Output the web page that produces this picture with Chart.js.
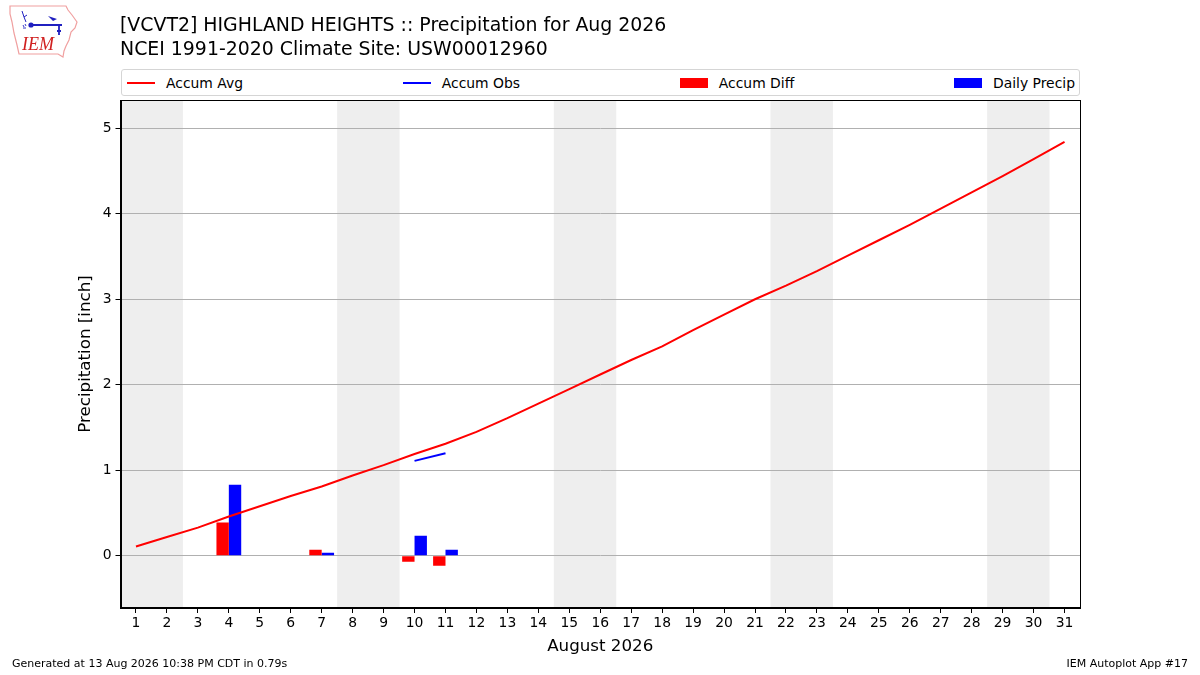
<!DOCTYPE html>
<html>
<head>
<meta charset="utf-8">
<title>HIGHLAND HEIGHTS Precipitation for Aug 2026</title>
<script src="https://cdn.jsdelivr.net/npm/chart.js@4.4.0/dist/chart.umd.min.js"></script>
<style>
    body { margin: 0; background: #fff; font-family: 'DejaVu Sans', sans-serif; color: #000; }
    #wrap { position: relative; width: 1200px; height: 675px; overflow: hidden; }
    #wrap canvas { position: absolute; left: 0; top: 0; }
    .title { position: absolute; left: 120px; font-size: 18.9px; line-height: 22px; white-space: nowrap; }
    #legend {
        position: absolute; left: 121px; top: 69px; width: 959px; height: 27px;
        box-sizing: border-box; border: 1px solid #d5d5d5; border-radius: 3px;
        display: flex; justify-content: space-between; align-items: center;
        padding: 0 4px 0 5px; font-size: 13.9px; background: #fff;
    }
    .item { display: flex; align-items: center; white-space: nowrap; }
    .swatch { width: 28px; margin-right: 11px; }
    .foot { position: absolute; top: 657px; font-size: 11px; line-height: 14px; white-space: nowrap; }
    #logo { position: absolute; left: 0; top: 0; }
</style>
</head>
<body>
<div id="wrap">
    <canvas id="precipChart"></canvas>
    <svg id="logo" width="90" height="64" viewBox="0 0 90 64">
        <path d="M10,6 L66,6 L68,10 L72,15 L77,22 L75,28 L71,32 L69,40 L66,46 L64,51 L63,57 L58,54 L19,54 L17,45 L14,33 L12,22 L10,14 Z"
              fill="none" stroke="#f0a0a0" stroke-width="1.2"/>
        <path d="M31,25 L62,25 M59,25 L59,35 M57,31 L61,31" stroke="#2020c0" stroke-width="1.8" fill="none"/>
        <path d="M48,16 L57,19 L53,21 Z" fill="#2020c0"/>
        <circle cx="31" cy="25" r="2.6" fill="#2020c0"/>
        <path d="M22,11 L24,17 L27,15 M24,17 L26,22" stroke="#2020c0" stroke-width="1" fill="none"/>
        <path d="M23,25 L24,27 M25,24 L26,26 M23,28 L26,28" stroke="#2020c0" stroke-width="0.9" fill="none"/>
        <text x="22" y="50" font-family="Liberation Serif, serif" font-style="italic" font-size="18" fill="#d02020">IEM</text>
    </svg>
    <div class="title" style="top:13px">[VCVT2] HIGHLAND HEIGHTS :: Precipitation for Aug 2026</div>
    <div class="title" style="top:37px">NCEI 1991-2020 Climate Site: USW00012960</div>
    <div id="legend"></div>
    <div class="foot" style="left:12px">Generated at 13 Aug 2026 10:38 PM CDT in 0.79s</div>
    <div class="foot" style="right:12px">IEM Autoplot App #17</div>
</div>
<script>
// Days of the month (x categories)
const days = ['1', '2', '3', '4', '5', '6', '7', '8', '9', '10', '11', '12', '13', '14', '15', '16',
              '17', '18', '19', '20', '21', '22', '23', '24', '25', '26', '27', '28', '29', '30', '31'];

// Climatology accumulated average [inch]
const accumAvg = [0.11, 0.22, 0.33, 0.46, 0.58, 0.70, 0.81, 0.94, 1.06, 1.19, 1.31, 1.45, 1.61, 1.78, 1.95, 2.12,
                  2.29, 2.45, 2.64, 2.82, 3.00, 3.16, 3.33, 3.51, 3.69, 3.87, 4.06, 4.25, 4.44, 4.64, 4.84];

// Observed accumulation (only plotted where available)
const accumObs = [null, null, null, null, null, null, null, null, null, 1.11, 1.20, null, null, null, null, null,
                  null, null, null, null, null, null, null, null, null, null, null, null, null, null, null];

// Observed minus average accumulation
const accumDiff = [null, null, null, 0.39, null, null, 0.07, null, null, -0.07, -0.115, null, null, null, null, null,
                   null, null, null, null, null, null, null, null, null, null, null, null, null, null, null];

// Daily precipitation
const dailyPrecip = [null, null, null, 0.83, null, null, 0.035, null, null, 0.235, 0.07, null, null, null, null, null,
                     null, null, null, null, null, null, null, null, null, null, null, null, null, null, null];

// Weekend days get a grey background
const weekendDays = [1, 2, 8, 9, 15, 16, 22, 23, 29, 30];

const yTicks = [0, 1, 2, 3, 4, 5];

Chart.defaults.font.family = "'DejaVu Sans', sans-serif";
Chart.defaults.color = '#000';

// grey bands behind weekends, drawn before the grid
const weekendShade = {
    id: 'weekendShade',
    beforeDraw(chart) {
        const { ctx, chartArea, scales } = chart;
        const half = (chartArea.right - chartArea.left) / days.length / 2;
        ctx.save();
        ctx.fillStyle = '#eeeeee';
        weekendDays.forEach(d => {
            const cx = scales.x.getPixelForValue(d - 1);
            ctx.fillRect(cx - half, chartArea.top, half * 2 + 0.5, chartArea.bottom - chartArea.top);
        });
        ctx.restore();
    }
};

// black box around the plot area
const frame = {
    id: 'frame',
    afterDraw(chart) {
        const { ctx, chartArea } = chart;
        ctx.save();
        ctx.strokeStyle = '#000';
        ctx.lineWidth = 1;
        ctx.strokeRect(Math.round(chartArea.left) + 0.5, Math.round(chartArea.top) + 0.5,
                       Math.round(chartArea.right - chartArea.left) - 1, Math.round(chartArea.bottom - chartArea.top) - 1);
        ctx.restore();
    }
};

const ctx = document.getElementById('precipChart').getContext('2d');
const chart = new Chart(ctx, {
    type: 'bar',
    data: {
        labels: days,
        datasets: [
            {
                type: 'line',
                label: 'Accum Avg',
                data: accumAvg,
                borderColor: '#ff0000',
                backgroundColor: '#ff0000',
                borderWidth: 2,
                pointRadius: 0,
                tension: 0
            },
            {
                type: 'line',
                label: 'Accum Obs',
                data: accumObs,
                borderColor: '#0000ff',
                backgroundColor: '#0000ff',
                borderWidth: 2,
                pointRadius: 0,
                spanGaps: false
            },
            {
                label: 'Accum Diff',
                data: accumDiff,
                backgroundColor: '#ff0000',
                borderWidth: 0,
                categoryPercentage: 0.8,
                barPercentage: 1.0
            },
            {
                label: 'Daily Precip',
                data: dailyPrecip,
                backgroundColor: '#0000ff',
                borderWidth: 0,
                categoryPercentage: 0.8,
                barPercentage: 1.0
            }
        ]
    },
    options: {
        responsive: true,
        maintainAspectRatio: false,
        animation: false,
        layout: { padding: { left: 72, top: 100, right: 120, bottom: 16 } },
        plugins: {
            legend: { display: false },
            title: { display: false },
            tooltip: { enabled: false }
        },
        scales: {
            x: {
                type: 'category',
                offset: true,
                grid: { display: true, drawOnChartArea: false, offset: false, tickLength: 5, tickColor: '#000' },
                border: { color: '#000', width: 1 },
                ticks: { font: { size: 13.9 }, color: '#000', padding: 2, maxRotation: 0, autoSkip: false },
                title: { display: true, text: 'August 2026', font: { size: 16.7 }, color: '#000', padding: { top: 2, bottom: 2 } },
                afterFit(scale) { scale.height = 51; }
            },
            y: {
                min: -0.61,
                max: 5.33,
                ticks: {
                    stepSize: 1,
                    includeBounds: false,
                    font: { size: 13.9 },
                    color: '#000',
                    padding: 4,
                    callback: v => (yTicks.includes(v) ? String(v) : '')
                },
                grid: { color: '#b0b0b0', lineWidth: 1, tickLength: 5, tickColor: '#000' },
                border: { color: '#000', width: 1 },
                title: { display: true, text: 'Precipitation [inch]', font: { size: 16.7 }, color: '#000', padding: 4 },
                afterFit(scale) { scale.width = 48.5; }
            }
        }
    },
    plugins: [weekendShade, frame]
});

// legend laid out across the full width, like the original
const legendEl = document.getElementById('legend');
chart.data.datasets.forEach(ds => {
    const item = document.createElement('div');
    item.className = 'item';
    const sw = document.createElement('div');
    sw.className = 'swatch';
    if (ds.type === 'line') {
        sw.style.height = '2px';
        sw.style.background = ds.borderColor;
    } else {
        sw.style.height = '10px';
        sw.style.background = ds.backgroundColor;
    }
    const txt = document.createElement('span');
    txt.textContent = ds.label;
    item.appendChild(sw);
    item.appendChild(txt);
    legendEl.appendChild(item);
});
</script>
</body>
</html>
